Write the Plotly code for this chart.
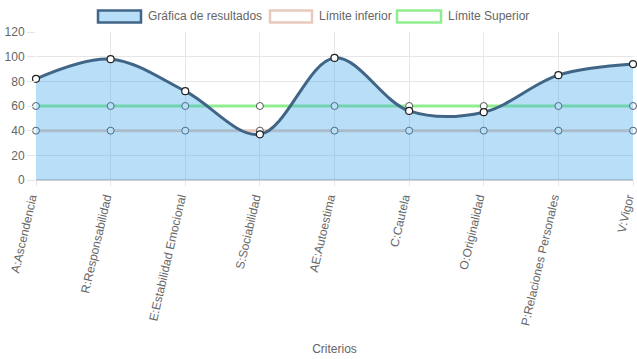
import plotly.graph_objects as go

categories = ["A:Ascendencia", "R:Responsabilidad", "E:Estabilidad Emocional",
              "S:Sociabilidad", "AE:Autoestima", "C:Cautela", "O:Originalidad",
              "P:Relaciones Personales", "V:Vigor"]
resultados = [82, 98, 72, 37, 99, 56, 55, 85, 94]
limite_inferior = [40, 40, 40, 40, 40, 40, 40, 40, 40]
limite_superior = [60, 60, 60, 60, 60, 60, 60, 60, 60]
y_ticks = [0, 20, 40, 60, 80, 100, 120]
legend_names = ["Gráfica de resultados", "Límite inferior", "Límite Superior"]

FONT = "Liberation Sans, Helvetica, Arial, sans-serif"
GRID = "#e6e6e6"
TXT = "#666666"
RES_FILL = "rgba(54,162,235,0.35)"
RES_LINE = "#416586"
INF_LINE = "#e8c9bc"
SUP_LINE = "#90ee90"

W, H = 637, 359
L, R, T = 36, 4, 32
PH = 148
B = H - T - PH
PW = W - L - R

fig = go.Figure()

fig.add_trace(go.Scatter(x=categories, y=limite_inferior, mode="lines+markers",
                         line=dict(color=INF_LINE, width=3),
                         marker=dict(size=7, color="white", line=dict(color="#555555", width=1)),
                         name=legend_names[1], showlegend=False, cliponaxis=False))
fig.add_trace(go.Scatter(x=categories, y=limite_superior, mode="lines+markers",
                         line=dict(color=SUP_LINE, width=3),
                         marker=dict(size=7, color="white", line=dict(color="#555555", width=1)),
                         name=legend_names[2], showlegend=False, cliponaxis=False))
fig.add_trace(go.Scatter(x=categories, y=resultados, mode="lines+markers",
                         line=dict(color=RES_LINE, width=3, shape="spline", smoothing=1.0),
                         fill="tozeroy", fillcolor=RES_FILL,
                         marker=dict(size=7, color="white", line=dict(color="#222222", width=1.2)),
                         name=legend_names[0], showlegend=False, cliponaxis=False))

# Chart.js-style legend boxes (page pixel coords -> paper coords)
def px_x(p):
    return (p - L) / PW

def px_y(p):
    return (T + PH - p) / PH

legend_boxes = [(98, 141, RES_FILL, RES_LINE, 146),
                (270, 312, "white", INF_LINE, 317),
                (397, 441, "white", SUP_LINE, 446)]
for (x0, x1, fc, lc, tx), name in zip(legend_boxes, legend_names):
    fig.add_shape(type="rect", xref="paper", yref="paper",
                  x0=px_x(x0), x1=px_x(x1), y0=px_y(22.5), y1=px_y(10.5),
                  fillcolor=fc, line=dict(color=lc, width=2.5), layer="above")
    fig.add_annotation(text=name, xref="paper", yref="paper", x=px_x(tx), y=px_y(16.5),
                       xanchor="left", yanchor="middle", showarrow=False,
                       font=dict(family=FONT, size=12, color=TXT))

fig.update_layout(
    width=W, height=H,
    margin=dict(l=L, r=R, t=T, b=B, autoexpand=False),
    paper_bgcolor="white", plot_bgcolor="white",
    font=dict(family=FONT, size=12, color=TXT),
    showlegend=False,
    xaxis=dict(type="category", range=[0, 8], showgrid=True, gridcolor=GRID,
               ticks="outside", ticklen=5, tickcolor=GRID, tickangle=-77,
               ticklabelshift=-5,
               tickfont=dict(family=FONT, size=12, color=TXT),
               showline=False, zeroline=False, automargin=False,
               title=dict(text="Criterios", font=dict(family=FONT, size=12, color=TXT), standoff=18)),
    yaxis=dict(range=[0, 120], tickvals=y_ticks, showgrid=True, gridcolor=GRID,
               ticks="outside", ticklen=8, tickcolor=GRID,
               tickfont=dict(family=FONT, size=12, color=TXT),
               zeroline=True, zerolinecolor="#d0d0d0", zerolinewidth=2,
               showline=False, automargin=False),
)

fig.write_html("out.html", config={"displayModeBar": False},
               post_script="document.body.style.margin='0';document.body.style.overflow='hidden';")
